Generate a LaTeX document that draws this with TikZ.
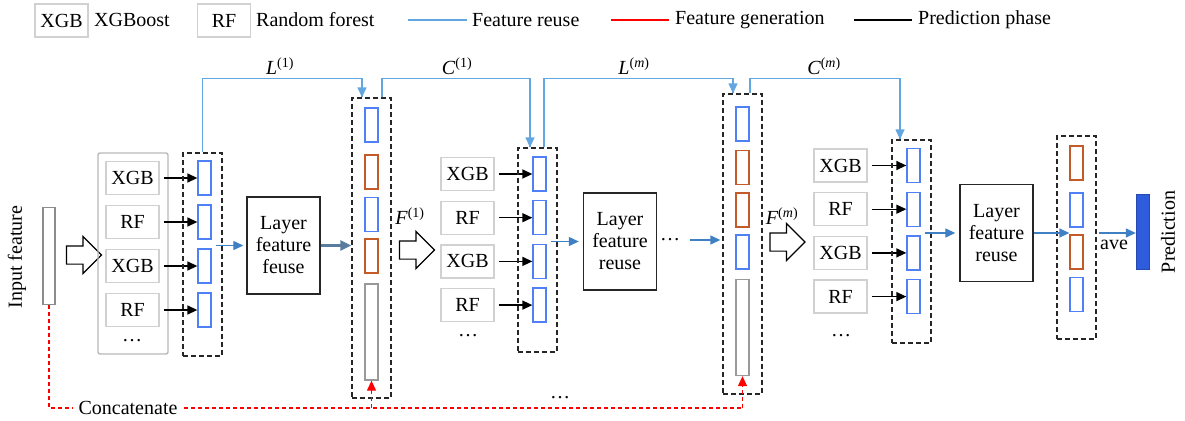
\documentclass[tikz,border=0pt]{standalone}
\usepackage{fontspec}
\setmainfont{Liberation Serif}
\usepackage{xcolor}
\usepackage{tikz}
\usetikzlibrary{shapes.geometric, shapes.arrows, arrows, arrows.meta}
\usetikzlibrary{calc,positioning}

\definecolor{vecblue}{HTML}{4F80F5}
\definecolor{vecbrown}{HTML}{C45A28}
\definecolor{reuseblue}{HTML}{62A6E2}
\definecolor{flowblue}{HTML}{3F7FC4}
\definecolor{steel}{HTML}{5A7C9E}
\definecolor{predblue}{HTML}{2F5BDD}

\tikzset{
    every node/.style={font=\fontsize{20}{22}\selectfont},
    mdl/.style={draw=black!18, line width=1.4pt, minimum width=53pt, minimum height=33pt, inner sep=0pt},
    vec/.style={draw=vecblue, line width=1.3pt, minimum width=13pt, minimum height=34pt, inner sep=0pt},
    vecr/.style={vec, draw=vecbrown},
    vecg/.style={vec, draw=black!40, minimum height=96pt},
    grp/.style={draw=black!85, dash pattern=on 5pt off 3pt, line width=1.3pt, inner sep=0pt},
    lfr/.style={draw=black!85, line width=1.4pt, minimum width=73pt, minimum height=97pt, align=center, inner sep=0pt},
    hollow/.style={single arrow, draw, line width=1.2pt, minimum height=35pt, inner sep=8.5pt,
        single arrow head extend=9.5pt, shape border rotate=0},
    pred/.style={-{Triangle[length=10pt,width=9pt]}, line width=1.4pt},
    fwd/.style={-{Triangle[length=10pt,width=9pt]}, flowblue, line width=1.3pt},
    reuse/.style={reuseblue, line width=1.3pt},
    gen/.style={red, dash pattern=on 4pt off 3pt, line width=1.2pt},
}

\begin{document}
\begin{tikzpicture}[x=1pt,y=-1pt]

    \useasboundingbox (0,0) rectangle (1185,420);

    % Legend
    \node[mdl] (lgxgb) at (61.5,20.5) {XGB};
    \node[anchor=west, inner sep=0pt] (lgxgbt) at (94,20) {XGBoost};
    \node[mdl] (lgrf) at (224,20.5) {RF};
    \node[anchor=west, inner sep=0pt] (lgrft) at (256,20) {Random forest};
    \node[anchor=west, inner sep=0pt] (lgreuse) at (472,20) {Feature reuse};
    \draw[reuse] ([xshift=-64pt]lgreuse.west) -- ([xshift=-5pt]lgreuse.west);
    \node[anchor=west, inner sep=0pt] (lggen) at (675,20) {Feature generation};
    \draw[red, line width=1.3pt] ([xshift=-64pt]lggen.west) -- ([xshift=-6pt]lggen.west);
    \node[anchor=west, inner sep=0pt] (lgpred) at (918,20) {Prediction phase};
    \draw[line width=1.3pt] ([xshift=-64pt]lgpred.west) -- ([xshift=-6pt]lgpred.west);

    % Input
    \node[draw=black!45, line width=1.2pt, minimum width=12pt, minimum height=97pt, inner sep=0pt] (inp) at (49,256) {};
    \node[rotate=90] (inpt) at (17,257) {Input feature};
    \node[hollow] (hol1) at (79.5,255) {};

    % First cascade layer
    \node[draw=black!28, rounded corners=2pt, line width=1.4pt, minimum width=70pt, minimum height=201pt] (cont1) at (133,253.5) {};
    \foreach \i/\m in {1/XGB,2/RF,3/XGB,4/RF} {
        \node[mdl] (ma\i) at (132.5,{178+44*(\i-1)}) {\m};
        \node[vec] (va\i) at (204.5,{178+44*(\i-1)}) {};
        \draw[pred] ([xshift=4pt]ma\i.east) -- (va\i.west);
    }
    \node (da) at (132,341) {\dots};
    \node[grp, minimum width=39pt, minimum height=203pt] (g1) at (202.5,254.5) {};
    \node[lfr] (lay1) at (283.5,245.5) {Layer\\feature\\feuse};
    \draw[fwd] ([xshift=-7pt]lay1.west -| g1.east) -- ([xshift=-3pt]lay1.west);

    % Concatenated vector, level 1
    \node[grp, minimum width=39pt, minimum height=300pt] (t1) at (371.5,248) {};
    \node[vec] (ta1) at (371.5,125) {};
    \node[vecr] (ta2) at (371.5,172) {};
    \node[vec] (ta3) at (371.5,214.5) {};
    \node[vecr] (ta4) at (371.5,256) {};
    \node[vecg] (ta5) at (371.5,332) {};
    \draw[-{Triangle[length=11pt,width=10pt]}, steel, line width=2.4pt] (lay1.east) -- (t1.west |- lay1.east);

    \node (f1) at (410,216) {\textit{F}\textsuperscript{(1)}};
    \node[hollow] (hol2) at (412.5,250) {};

    % Second cascade layer
    \foreach \i/\m in {1/XGB,2/RF,3/XGB,4/RF} {
        \node[mdl] (mb\i) at (467.5,{174+43.7*(\i-1)}) {\m};
        \node[vec] (vb\i) at (539.5,{174+43.7*(\i-1)}) {};
        \draw[pred] ([xshift=4pt]mb\i.east) -- (vb\i.west);
    }
    \node (db) at (468,336) {\dots};
    \node[grp, minimum width=39pt, minimum height=204pt] (g2) at (537.5,250) {};
    \node[lfr] (lay2) at (620,241.5) {Layer\\feature\\reuse};
    \draw[fwd] ([xshift=-7pt]lay2.west -| g2.east) -- ([xshift=-4pt]lay2.west);
    \node (dl) at (670,240) {\dots};

    % Concatenated vector, level m
    \node[grp, minimum width=39pt, minimum height=300pt] (t2) at (742.5,244) {};
    \node[vec] (tb1) at (742.5,124) {};
    \node[vecr] (tb2) at (742.5,167.5) {};
    \node[vecr] (tb3) at (742.5,210) {};
    \node[vec] (tb4) at (742.5,252) {};
    \node[vecg] (tb5) at (742.5,327.5) {};
    \draw[fwd] ([xshift=6pt]dl.east) -- ([xshift=-2pt]t2.west |- dl.east);

    \node (fm) at (782,216) {\textit{F}\textsuperscript{(\textit{m})}};
    \node[hollow] (hol3) at (783,242) {};

    % Last cascade layer
    \foreach \i/\m in {1/XGB,2/RF,3/XGB,4/RF} {
        \node[mdl] (mc\i) at (840.5,{165.5+43.7*(\i-1)}) {\m};
        \node[vec] (vc\i) at (913.5,{165.5+43.7*(\i-1)}) {};
        \draw[pred] ([xshift=4pt]mc\i.east) -- (vc\i.west);
    }
    \node (dc) at (841,336) {\dots};
    \node[grp, minimum width=39pt, minimum height=203pt] (g3) at (911.5,241.5) {};
    \node[lfr] (lay3) at (996.5,233) {Layer\\feature\\reuse};
    \draw[fwd] ([xshift=-7pt]lay3.west -| g3.east) -- ([xshift=-4pt]lay3.west);

    % Output vector and prediction
    \node[grp, minimum width=39pt, minimum height=203pt] (g4) at (1076.5,237.5) {};
    \node[vecr] (vd1) at (1076.5,163) {};
    \node[vec] (vd2) at (1076.5,210) {};
    \node[vecr] (vd3) at (1076.5,252) {};
    \node[vec] (vd4) at (1076.5,294.5) {};
    \draw[fwd] (lay3.east) -- (vd2.west |- lay3.east);
    \node[draw=predblue!80!black, fill=predblue, minimum width=13pt, minimum height=75pt, inner sep=0pt] (prd) at (1142.5,231.5) {};
    \draw[fwd] ([xshift=2pt]g4.east |- lay3.east) -- (prd.west |- lay3.east);
    \node (ave) at (1114,245) {ave};
    \node[rotate=90] (prdt) at (1168,232) {Prediction};

    % Feature reuse paths
    \draw[reuse] (g1.north) -- ++(0,-74) -| ([xshift=-9.5pt]t1.north) coordinate (r1);
    \draw[reuse, -{Triangle[length=10pt,width=9pt]}] (r1) ++(0,-12) -- (r1);
    \node (l1) at (280,66) {\textit{L}\textsuperscript{(1)}};
    \draw[reuse] ([xshift=10.5pt]t1.north) -- ++(0,-19) -| ([xshift=-7.5pt]g2.north) coordinate (r2);
    \draw[reuse, -{Triangle[length=10pt,width=9pt]}] (r2) ++(0,-12) -- (r2);
    \node (c1) at (457,66) {\textit{C}\textsuperscript{(1)}};
    \draw[reuse] ([xshift=6.5pt]g2.north) -- ++(0,-69) -| ([xshift=-9.5pt]t2.north) coordinate (r3);
    \draw[reuse, -{Triangle[length=10pt,width=9pt]}] (r3) ++(0,-12) -- (r3);
    \node (lm) at (634,66) {\textit{L}\textsuperscript{(\textit{m})}};
    \draw[reuse] ([xshift=7.5pt]t2.north) -- ++(0,-15) -| ([xshift=-11.5pt]g3.north) coordinate (r4);
    \draw[reuse, -{Triangle[length=10pt,width=9pt]}] (r4) ++(0,-12) -- (r4);
    \node (cm) at (824,66) {\textit{C}\textsuperscript{(\textit{m})}};

    % Feature generation (concatenation of the input)
    \coordinate (cc) at (49,408);
    \draw[gen] (inp.south) -- (cc) -- (ta5.south |- cc) -- (tb5.south |- cc);
    \draw[gen, -{Triangle[length=10pt,width=9pt]}] (ta5.south |- cc) -- (ta5.south);
    \draw[gen, -{Triangle[length=10pt,width=9pt]}] (tb5.south |- cc) -- (tb5.south);
    \node[fill=white, inner xsep=6pt, inner ysep=1pt] (cat) at (128,408) {Concatenate};
    \node (dg) at (560,398) {\dots};

\end{tikzpicture}
\end{document}
